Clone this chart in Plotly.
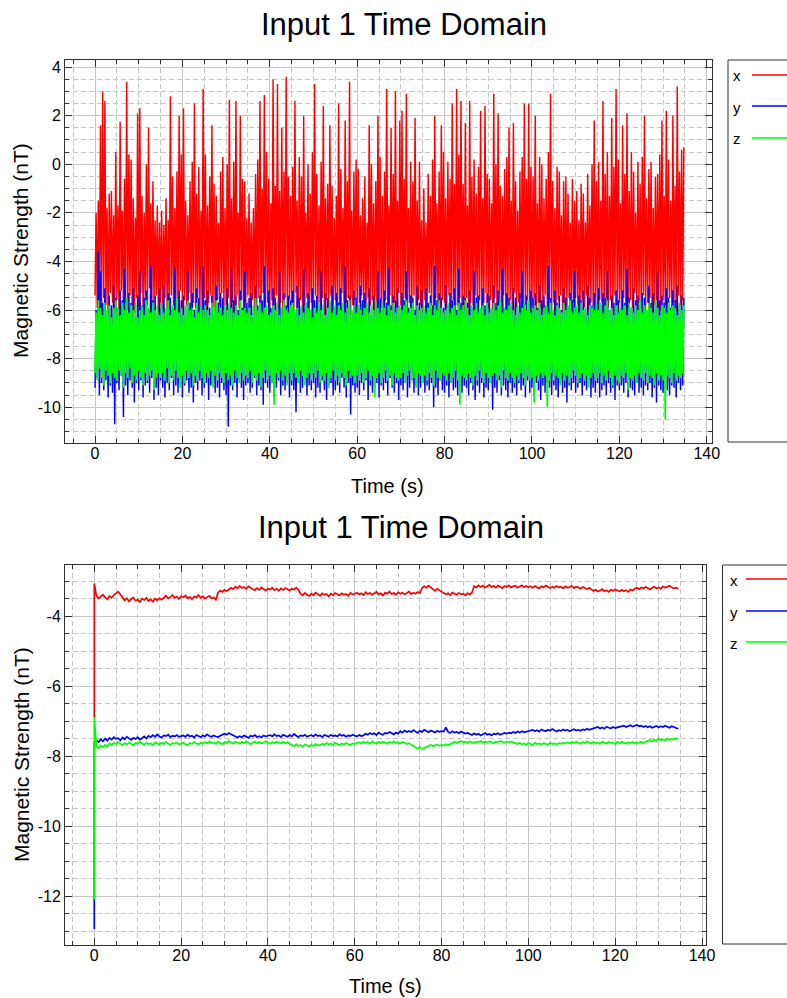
import numpy as np
import plotly.graph_objects as go

# ---------------- top panel: raw samples, summarised as high / low per 0.5 s ----------------
TOP_STEP = 0.5

x_hi = [
    -2.0, -1.5, 1.6, 3.0, 2.6, -1.8, -1.2, -1.1, -2.1, 0.5,
    -1.7, 1.75, -1.9, -0.6, 3.4, 0.4, 0.2, -1.4, -2.2, 2.1,
    2.3, -1.3, -2.0, 0.0, 1.5, -1.6, -0.7, -2.3, -1.7, -2.4,
    -1.9, -2.5, -1.4, -2.3, 2.8, -0.5, -1.8, -0.3, 2.0, 0.4,
    2.3, -1.5, -2.1, -0.7, 0.1, 2.5, -1.2, -0.1, -1.9, 3.1,
    0.4, -1.7, -0.5, 1.6, -0.8, -1.3, -2.4, -0.3, 0.3, -1.8,
    0.0, 2.65, -1.4, 0.1, 2.6, -2.0, 2.0, -0.6, -0.7, -2.2,
    -1.2, -2.4, -1.8, -0.4, 0.2, 2.6, -1.0, 2.85, 0.5, -0.6,
    -1.6, 3.5, -0.9, 3.3, -1.1, 1.5, -0.3, 3.6, -0.5, -1.3,
    -0.1, 2.6, -1.5, 0.3, -0.5, 2.0, -2.0, 0.0, -1.2, 0.5,
    3.3, -0.4, -1.7, 0.1, 2.4, -1.4, -0.8, 1.6, -0.9, -2.2,
    -1.3, 2.5, -0.2, -1.8, 1.8, -0.7, 3.4, -1.9, -0.3, 0.2,
    -0.2, -2.1, -1.4, -0.5, -2.4, 1.6, 0.0, -1.6, -0.7, 2.0,
    0.3, -1.3, -0.3, 3.1, -1.7, 1.5, -0.4, 3.0, -1.5, 1.8,
    2.2, -0.6, 2.9, -1.8, 0.1, -0.7, 1.9, -1.5, 0.1, -2.3,
    -1.0, -2.4, -0.4, -1.3, 0.2, 2.0, -1.6, -0.3, 1.6, 0.5,
    -1.4, 0.1, -0.6, 2.5, -0.8, 3.1, 0.4, 2.6, -0.8, 1.7,
    -1.7, 2.6, -0.5, 0.2, -1.2, -0.1, 2.2, -1.4, 2.4, -0.4,
    -0.6, -1.6, 2.9, 0.0, 2.1, -0.9, -1.3, -0.2, 0.3, 1.5,
    -1.5, 1.7, -0.7, -1.9, -0.3, 0.3, 2.5, -0.6, 2.5, -0.1,
    -0.5, 2.0, -1.6, 0.3, 0.0, -1.4, -0.6, 0.5, 2.9, -0.7,
    -1.8, -0.1, -0.3, -2.1, -0.7, -0.5, -1.2, -2.4, -0.6, -1.5,
    -1.1, -2.3, -0.8, -1.2, -2.4, -0.4, -1.7, 0.0, 1.8, -0.7,
    0.1, -1.5, 2.6, -0.4, 0.5, -1.3, 1.9, -0.1, 3.1, 0.2,
    -1.6, 1.6, -0.4, 2.1, -1.1, 0.5, -0.3, -2.0, 0.1, -0.8,
    0.3, 2.0, -1.4, -0.2, 0.1, -1.8, -0.5, -0.4, 0.4, 1.8,
    -1.3, 2.2, 0.2, -1.5, 2.0, -0.9, 3.2, -0.3, 0.6, 0.7,
]
x_lo = [
    -5.4, -5.9, -5.6, -6.1, -5.5, -5.8, -6.2, -5.3, -5.7, -6.0,
    -5.6, -6.3, -5.2, -5.9, -5.7, -6.0, -5.4, -5.8, -6.1, -5.5,
    -5.9, -5.3, -6.2, -5.6, -5.8, -5.1, -6.0, -5.7, -5.4, -6.1,
    -5.7, -6.0, -5.5, -5.9, -6.3, -5.4, -5.8, -5.6, -6.1, -5.2,
    -6.0, -5.6, -5.8, -5.3, -6.2, -5.7, -5.9, -5.5, -6.0, -5.8,
    -5.5, -6.1, -5.7, -5.4, -5.9, -6.2, -5.6, -5.8, -5.3, -6.0,
    -5.8, -5.5, -6.0, -5.7, -6.3, -5.4, -5.9, -5.6, -6.1, -5.7,
    -5.4, -5.9, -5.6, -6.2, -5.8, -5.5, -6.0, -5.3, -5.9, -5.7,
    -6.1, -5.6, -5.8, -5.4, -6.0, -5.7, -6.2, -5.5, -5.9, -5.6,
    -5.7, -6.0, -5.3, -5.9, -5.6, -6.1, -5.8, -5.5, -6.3, -5.7,
    -5.9, -5.4, -6.0, -5.7, -5.5, -6.2, -5.6, -5.9, -5.4, -6.0,
    -5.6, -6.1, -5.8, -5.3, -6.0, -5.7, -5.5, -6.2, -5.8, -5.6,
    -6.0, -5.7, -5.4, -5.9, -6.1, -5.5, -5.8, -5.6, -6.3, -5.7,
    -5.5, -5.9, -6.2, -5.6, -5.8, -5.4, -6.0, -5.7, -5.9, -5.3,
    -5.8, -6.0, -5.5, -6.1, -5.7, -5.9, -5.4, -6.2, -5.6, -5.8,
    -6.1, -5.6, -5.9, -5.3, -5.8, -6.0, -5.5, -5.7, -6.2, -5.6,
    -5.7, -5.9, -5.4, -6.0, -5.6, -6.1, -5.8, -5.5, -5.9, -6.0,
    -5.5, -6.2, -5.7, -5.8, -5.4, -6.0, -5.6, -6.1, -5.7, -5.3,
    -5.9, -5.6, -6.0, -5.5, -6.3, -5.7, -5.8, -5.4, -6.0, -5.8,
    -5.6, -6.1, -5.3, -5.9, -5.7, -5.5, -6.2, -5.8, -5.6, -6.0,
    -5.8, -5.5, -6.0, -5.7, -5.9, -6.1, -5.4, -5.8, -5.6, -6.2,
    -5.7, -6.0, -5.6, -5.4, -6.1, -5.8, -5.9, -5.5, -6.0, -5.7,
    -5.5, -5.8, -6.2, -5.6, -5.9, -5.4, -6.0, -5.7, -5.8, -6.1,
    -6.0, -5.6, -5.7, -6.3, -5.5, -5.9, -5.6, -6.0, -5.4, -5.8,
    -5.7, -6.1, -5.5, -5.8, -6.0, -5.6, -5.9, -5.3, -6.2, -5.7,
    -5.9, -5.4, -6.0, -5.7, -5.5, -6.1, -5.8, -5.6, -5.9, -6.0,
    -5.6, -5.8, -6.1, -5.5, -5.9, -5.7, -6.0, -5.4, -5.8, -5.6,
]
y_hi = [
    -6.0, -3.6, -4.4, -5.7, -5.1, -6.2, -5.4, -5.8, -5.0, -5.5,
    -5.9, -5.2, -5.6, -4.3, -6.1, -5.3, -5.7, -5.1, -6.3, -5.4,
    -4.4, -5.8, -5.5, -5.2, -6.0, -4.2, -5.6, -5.4, -6.1, -5.1,
    -5.7, -5.0, -6.2, -5.3, -5.5, -5.9, -4.3, -5.8, -5.2, -5.6,
    -5.4, -6.1, -4.4, -5.7, -5.3, -6.0, -5.1, -5.5, -5.8, -4.2,
    -5.6, -5.2, -5.9, -5.4, -6.3, -5.0, -5.7, -5.3, -5.5, -6.1,
    -5.1, -5.8, -4.3, -5.6, -5.4, -6.0, -5.2, -5.9, -4.4, -5.7,
    -5.5, -5.3, -6.1, -5.0, -5.8, -5.4, -5.6, -4.2, -6.2, -5.2,
    -5.9, -5.1, -5.5, -5.7, -4.4, -6.0, -5.3, -5.8, -5.4, -5.6,
    -5.2, -6.1, -5.0, -5.5, -5.9, -4.3, -5.7, -5.3, -6.0, -5.1,
    -5.6, -5.4, -5.8, -4.4, -6.2, -5.3, -5.5, -5.7, -5.0, -5.9,
    -5.3, -5.7, -5.1, -6.0, -4.2, -5.6, -5.4, -6.1, -5.2, -5.5,
    -5.8, -5.0, -5.6, -5.3, -5.9, -5.1, -6.2, -5.4, -5.7, -4.4,
    -5.5, -6.0, -5.2, -5.7, -4.3, -5.8, -5.4, -5.6, -5.1, -6.1,
    -5.3, -5.6, -4.4, -5.9, -5.4, -5.5, -6.0, -5.0, -5.7, -5.2,
    -6.1, -5.1, -5.7, -5.4, -5.8, -4.2, -5.6, -5.3, -5.5, -5.9,
    -5.0, -5.8, -5.3, -5.6, -5.1, -6.0, -4.3, -5.7, -5.4, -5.5,
    -5.7, -5.2, -5.9, -4.4, -5.5, -5.4, -6.1, -5.1, -5.8, -5.3,
    -5.4, -6.0, -5.0, -5.7, -5.2, -5.6, -4.3, -5.9, -5.3, -5.5,
    -5.8, -5.1, -5.5, -6.1, -5.3, -4.4, -5.7, -5.4, -6.0, -5.2,
    -5.5, -5.3, -5.9, -5.0, -5.6, -5.4, -5.8, -4.2, -5.5, -6.1,
    -5.2, -5.7, -5.4, -6.0, -5.1, -5.5, -5.9, -5.3, -5.6, -4.4,
    -5.9, -5.4, -5.6, -5.2, -6.1, -5.0, -5.5, -5.8, -5.3, -5.7,
    -5.1, -5.8, -5.3, -5.5, -4.4, -6.0, -5.4, -5.7, -5.2, -5.6,
    -6.0, -5.2, -5.7, -4.3, -5.5, -5.9, -5.1, -5.6, -5.4, -5.8,
    -5.3, -5.5, -6.1, -5.0, -5.7, -5.3, -5.8, -4.4, -5.6, -5.4,
    -5.7, -5.1, -5.5, -5.9, -5.2, -5.6, -5.0, -5.8, -5.4, -5.5,
]
y_lo = [
    -9.2, -8.8, -9.5, -9.0, -9.3, -8.9, -9.6, -9.1, -9.4, -10.7,
    -9.0, -9.3, -8.7, -10.4, -9.1, -9.5, -8.9, -9.2, -9.8, -9.0,
    -9.3, -8.9, -9.6, -9.1, -9.0, -9.4, -8.8, -9.7, -9.2, -9.5,
    -8.9, -9.2, -9.6, -9.0, -9.3, -8.8, -9.5, -9.1, -9.4, -9.0,
    -9.6, -9.1, -8.9, -9.4, -9.2, -9.8, -9.0, -9.3, -8.9, -9.5,
    -9.2, -9.0, -9.7, -9.1, -8.8, -9.4, -9.2, -9.6, -9.0, -9.3,
    -9.5, -10.8, -9.1, -9.3, -9.0, -9.6, -8.9, -9.2, -9.7, -9.1,
    -9.0, -9.4, -9.2, -8.8, -9.5, -9.1, -9.3, -9.9, -9.0, -9.2,
    -9.4, -9.0, -9.6, -9.2, -8.9, -9.5, -9.1, -9.3, -9.0, -9.6,
    -9.1, -9.3, -10.2, -9.0, -9.4, -9.2, -8.9, -9.5, -9.1, -9.3,
    -9.0, -9.6, -9.2, -9.4, -8.9, -9.3, -9.7, -9.1, -9.0, -9.5,
    -9.3, -9.1, -9.4, -8.8, -9.2, -9.6, -9.0, -10.3, -9.1, -9.4,
    -9.2, -9.5, -9.0, -9.3, -8.9, -9.7, -9.1, -9.4, -9.2, -9.0,
    -9.6, -9.1, -9.3, -9.0, -9.5, -8.8, -9.2, -9.4, -9.0, -9.7,
    -9.1, -9.3, -9.0, -9.6, -9.2, -8.9, -9.4, -9.1, -9.5, -9.2,
    -9.0, -9.4, -9.1, -9.3, -9.0, -10.0, -9.2, -9.5, -8.9, -9.3,
    -9.4, -9.1, -9.6, -9.0, -9.3, -9.2, -9.5, -8.9, -9.4, -9.1,
    -9.2, -9.5, -9.0, -9.3, -9.7, -9.1, -9.4, -9.0, -9.6, -9.2,
    -9.3, -9.0, -10.1, -9.2, -9.4, -8.9, -9.5, -9.1, -9.3, -9.6,
    -9.0, -9.4, -9.2, -9.5, -9.0, -9.3, -9.1, -9.6, -8.9, -9.4,
    -9.2, -9.5, -9.0, -9.3, -9.7, -9.1, -9.4, -9.0, -9.2, -9.5,
    -9.1, -9.3, -9.6, -9.0, -9.4, -9.2, -9.8, -9.1, -9.3, -9.0,
    -9.4, -9.2, -9.0, -9.5, -9.1, -9.3, -8.9, -9.6, -9.2, -9.4,
    -9.0, -9.6, -9.3, -9.1, -9.5, -9.0, -9.4, -9.2, -9.7, -9.1,
    -9.3, -9.1, -9.4, -9.0, -9.6, -9.2, -9.3, -9.5, -9.0, -9.4,
    -9.2, -9.5, -9.1, -9.3, -9.0, -9.6, -9.2, -9.8, -9.1, -9.3,
    -9.4, -9.0, -9.3, -9.5, -9.1, -9.2, -9.6, -9.0, -9.3, -9.1,
]
z_hi = [
    -6.1, -5.6, -5.9, -6.2, -5.7, -6.0, -5.8, -6.3, -5.9, -5.6,
    -5.9, -6.2, -5.7, -6.0, -5.5, -6.1, -5.8, -6.0, -5.7, -6.3,
    -6.0, -5.8, -6.2, -5.6, -5.9, -6.1, -5.7, -6.0, -5.8, -6.2,
    -5.7, -6.1, -5.9, -5.6, -6.2, -5.8, -6.0, -5.5, -6.1, -5.9,
    -6.2, -5.8, -5.6, -6.0, -5.9, -6.3, -5.7, -6.1, -5.8, -6.0,
    -5.8, -6.0, -6.2, -5.7, -5.9, -5.6, -6.1, -5.9, -6.2, -5.8,
    -6.0, -5.7, -5.9, -6.1, -5.8, -6.2, -5.6, -6.0, -5.9, -6.1,
    -5.9, -6.2, -5.8, -5.5, -6.0, -5.7, -6.1, -5.9, -5.8, -6.2,
    -6.1, -5.8, -6.0, -5.7, -6.2, -5.9, -5.6, -6.0, -6.1, -5.8,
    -5.7, -6.0, -5.9, -6.2, -5.8, -6.1, -5.7, -5.9, -6.0, -6.3,
    -5.9, -6.1, -5.7, -6.0, -5.8, -6.2, -5.9, -5.6, -6.1, -5.8,
    -6.2, -5.8, -6.0, -5.7, -6.1, -5.9, -5.6, -6.0, -5.8, -6.1,
    -5.8, -6.0, -6.2, -5.9, -5.7, -6.1, -5.8, -6.0, -5.6, -5.9,
    -6.1, -5.7, -5.9, -6.2, -5.8, -6.0, -5.7, -6.1, -5.9, -5.8,
    -6.0, -5.8, -5.6, -6.1, -5.9, -5.7, -6.2, -5.8, -6.0, -5.9,
    -5.8, -6.1, -5.9, -5.7, -6.2, -5.8, -6.0, -5.6, -5.9, -6.1,
    -6.0, -5.7, -6.1, -5.9, -5.8, -6.2, -5.7, -6.0, -5.8, -5.6,
    -5.9, -6.2, -5.8, -6.0, -5.7, -6.1, -5.9, -5.8, -6.2, -5.7,
    -6.1, -5.9, -5.7, -6.0, -5.8, -5.6, -6.1, -5.9, -6.0, -5.8,
    -5.7, -6.0, -6.2, -5.8, -6.1, -5.9, -5.7, -6.0, -5.6, -6.1,
    -5.9, -5.8, -6.0, -5.7, -6.2, -5.9, -5.8, -6.1, -5.7, -6.0,
    -6.2, -5.8, -5.9, -6.1, -5.7, -6.0, -5.8, -5.6, -6.1, -5.9,
    -5.8, -6.1, -5.7, -6.0, -5.9, -6.2, -5.8, -5.9, -6.0, -5.7,
    -6.0, -5.7, -6.1, -5.8, -5.6, -6.0, -5.9, -6.2, -5.8, -6.1,
    -5.9, -6.0, -5.8, -6.2, -5.7, -5.9, -6.1, -5.8, -6.0, -5.6,
    -6.1, -5.8, -6.0, -5.7, -5.9, -6.1, -5.6, -5.9, -6.2, -5.8,
    -5.9, -6.1, -5.7, -6.0, -5.8, -5.9, -6.2, -5.7, -6.0, -5.8,
]
z_lo = [
    -8.6, -8.9, -8.4, -8.8, -9.1, -8.5, -8.7, -9.0, -8.6, -8.8,
    -8.9, -8.5, -8.7, -9.2, -8.6, -8.8, -8.4, -9.0, -8.7, -8.9,
    -8.5, -8.8, -9.1, -8.6, -8.9, -8.7, -8.5, -9.3, -8.8, -8.6,
    -8.8, -8.6, -8.9, -8.4, -9.0, -8.7, -8.9, -8.5, -8.8, -9.2,
    -8.7, -9.0, -8.5, -8.8, -8.6, -9.1, -8.7, -8.9, -8.5, -8.8,
    -9.0, -8.6, -8.8, -8.5, -9.2, -8.7, -8.9, -8.6, -8.8, -9.0,
    -8.6, -8.9, -8.7, -9.1, -8.5, -8.8, -9.0, -8.6, -8.9, -8.7,
    -8.8, -8.5, -9.0, -8.7, -8.9, -8.6, -9.2, -8.8, -8.5, -8.9,
    -8.7, -9.0, -9.9, -8.6, -8.8, -8.5, -8.9, -8.7, -9.1, -8.6,
    -8.9, -8.6, -8.8, -9.0, -8.5, -8.7, -9.1, -8.8, -8.6, -8.9,
    -8.6, -8.8, -8.5, -9.0, -8.7, -8.9, -8.6, -9.2, -8.8, -8.5,
    -8.9, -8.7, -9.0, -8.6, -8.8, -9.1, -8.5, -8.8, -8.7, -9.0,
    -8.7, -8.9, -8.6, -9.0, -8.8, -8.5, -8.9, -8.7, -9.6, -8.8,
    -8.6, -9.0, -8.8, -8.5, -8.9, -8.7, -9.1, -8.6, -8.8, -8.9,
    -8.8, -8.6, -9.0, -8.7, -8.5, -8.9, -8.8, -9.2, -8.6, -8.7,
    -9.0, -8.7, -8.9, -8.6, -8.8, -9.1, -8.5, -8.8, -8.9, -8.6,
    -8.7, -8.9, -8.6, -9.0, -8.8, -8.5, -8.9, -9.9, -8.7, -8.8,
    -8.9, -8.6, -8.8, -9.1, -8.7, -8.9, -8.5, -8.8, -9.0, -8.6,
    -8.8, -9.0, -8.7, -8.6, -8.9, -8.7, -9.2, -8.5, -8.8, -8.9,
    -8.6, -8.8, -9.0, -8.7, -8.9, -8.6, -8.8, -9.1, -8.7, -8.9,
    -8.8, -9.8, -8.7, -8.9, -8.6, -8.8, -8.7, -10.0, -8.9, -8.6,
    -8.9, -8.7, -8.8, -9.1, -8.6, -8.9, -8.7, -9.0, -8.8, -8.5,
    -8.7, -9.0, -8.8, -8.6, -8.9, -8.7, -9.2, -8.8, -8.6, -8.9,
    -8.8, -8.6, -9.0, -8.7, -8.9, -8.5, -8.8, -9.1, -8.7, -8.9,
    -9.0, -8.7, -8.8, -8.6, -9.3, -8.8, -8.9, -8.7, -9.0, -8.6,
    -8.8, -8.9, -8.6, -9.0, -8.7, -8.8, -9.1, -8.6, -8.9, -8.7,
    -8.9, -10.5, -8.7, -8.8, -9.0, -8.6, -8.9, -8.7, -8.8, -8.6,
]

# ---------------- bottom panel: filtered samples every 0.5 s ----------------
BOT_STEP = 0.5
start_t = [0.0, 0.0]          # start-up transient at t = 0
x_start = [-6.9, -3.07]
y_start = [-12.94, -7.6]
z_start = [-12.1, -6.9]

x_bot = [
    -3.42, -3.50, -3.44, -3.39, -3.47, -3.52, -3.43, -3.48, -3.40,
    -3.36, -3.30, -3.38, -3.46,
    -3.55, -3.49, -3.58, -3.51, -3.47, -3.56, -3.53, -3.60, -3.50, -3.54, -3.48, -3.57, -3.52, -3.59, -3.50, -3.55, -3.49, -3.53,
    -3.47, -3.42, -3.50, -3.45, -3.40, -3.48, -3.44, -3.51, -3.43, -3.47, -3.41, -3.49, -3.45, -3.52, -3.44, -3.46, -3.40, -3.48, -3.43, -3.50, -3.45, -3.42, -3.49, -3.47, -3.53,
    -3.33, -3.27, -3.31, -3.25, -3.29, -3.24,
    -3.19, -3.23, -3.16, -3.21, -3.14, -3.20, -3.17, -3.22, -3.15, -3.19,
    -3.22, -3.26, -3.20, -3.25, -3.18, -3.23, -3.27, -3.21, -3.24, -3.19, -3.26, -3.22, -3.28, -3.21, -3.25, -3.20, -3.23, -3.27, -3.22, -3.25, -3.19, -3.24,
    -3.36, -3.41, -3.34, -3.39, -3.43, -3.36, -3.40, -3.33, -3.38, -3.42, -3.35, -3.39, -3.37, -3.44, -3.36, -3.40, -3.34, -3.38, -3.41, -3.35, -3.39, -3.37, -3.42, -3.34, -3.38, -3.36,
    -3.33, -3.38, -3.35, -3.40, -3.32, -3.37, -3.34, -3.39, -3.36, -3.31, -3.38, -3.35, -3.41, -3.33, -3.36, -3.30, -3.37, -3.34, -3.39, -3.32, -3.36, -3.33, -3.38, -3.35, -3.30, -3.37, -3.33, -3.36, -3.31, -3.34,
    -3.20, -3.15, -3.19, -3.13, -3.18,
    -3.24, -3.28, -3.22, -3.27, -3.30,
    -3.34, -3.38, -3.35, -3.40, -3.33, -3.37, -3.39, -3.34, -3.38, -3.36, -3.41, -3.35, -3.38, -3.33,
    -3.14, -3.18, -3.12, -3.17, -3.13, -3.19, -3.15, -3.11, -3.17, -3.14, -3.19, -3.13, -3.16, -3.20, -3.14, -3.17, -3.12, -3.18, -3.15, -3.13, -3.19, -3.16, -3.12, -3.17, -3.14, -3.18,
    -3.15, -3.19, -3.14, -3.18, -3.21, -3.15, -3.18, -3.13, -3.17, -3.20, -3.16, -3.19, -3.14, -3.18, -3.16, -3.21, -3.15, -3.19, -3.17, -3.14, -3.20, -3.16, -3.18, -3.22, -3.17, -3.20, -3.23, -3.19,
    -3.24, -3.28, -3.25, -3.30, -3.27, -3.23, -3.29, -3.26, -3.31, -3.25, -3.28, -3.24, -3.27, -3.30, -3.25, -3.29, -3.26, -3.31, -3.24, -3.27,
    -3.22, -3.19, -3.23, -3.18, -3.21, -3.17, -3.20, -3.24, -3.19, -3.16, -3.21, -3.18, -3.22, -3.15, -3.19, -3.17, -3.13, -3.18, -3.21, -3.19, -3.22,
]
y_bot = [
    -7.55, -7.60, -7.52, -7.58, -7.50, -7.56,
    -7.48, -7.53, -7.46, -7.51, -7.49, -7.55, -7.47, -7.52, -7.45, -7.50, -7.54, -7.48, -7.51, -7.46, -7.53, -7.49, -7.44, -7.50,
    -7.42, -7.46, -7.40, -7.45, -7.38, -7.44, -7.47, -7.41, -7.43, -7.39, -7.46, -7.42, -7.44, -7.40, -7.45, -7.43,
    -7.41, -7.45, -7.39, -7.44, -7.42, -7.47, -7.40, -7.43, -7.46, -7.41, -7.44, -7.38, -7.43, -7.45, -7.41, -7.44,
    -7.46, -7.42, -7.40, -7.36, -7.39, -7.34, -7.38, -7.41, -7.44, -7.47, -7.43, -7.46, -7.41, -7.45, -7.48, -7.42, -7.44, -7.40, -7.46, -7.43, -7.47, -7.41, -7.44, -7.42,
    -7.40, -7.44, -7.38, -7.43, -7.41, -7.46, -7.39, -7.42, -7.45, -7.40, -7.44, -7.37, -7.42, -7.46, -7.41, -7.43, -7.39, -7.45, -7.42, -7.40, -7.44, -7.38,
    -7.43, -7.41, -7.46, -7.40, -7.42, -7.45, -7.39, -7.43, -7.41, -7.44, -7.38, -7.42, -7.40, -7.45, -7.41, -7.43, -7.39, -7.42, -7.44, -7.40, -7.43, -7.41,
    -7.36, -7.39, -7.34, -7.38, -7.35, -7.40, -7.33, -7.37, -7.39, -7.34, -7.36, -7.31, -7.35, -7.38, -7.33, -7.36,
    -7.29, -7.33, -7.27, -7.31, -7.28, -7.32, -7.26, -7.30, -7.34, -7.28, -7.31, -7.25, -7.29, -7.32, -7.27, -7.30, -7.33, -7.28, -7.31, -7.29,
    -7.30, -7.18, -7.31, -7.34, -7.29, -7.33, -7.31, -7.35, -7.30, -7.33, -7.36, -7.34,
    -7.37, -7.40, -7.35, -7.39, -7.36, -7.41, -7.38, -7.34, -7.39, -7.37, -7.41, -7.36, -7.38, -7.35, -7.39, -7.37, -7.34, -7.36,
    -7.33, -7.35, -7.31, -7.34, -7.30, -7.33, -7.29, -7.32, -7.30, -7.28,
    -7.28, -7.25, -7.29, -7.26, -7.30, -7.24, -7.27, -7.29, -7.25, -7.28, -7.23, -7.27, -7.30, -7.26, -7.28, -7.24, -7.27, -7.25, -7.29, -7.26, -7.23, -7.27, -7.25, -7.28, -7.24, -7.26, -7.22, -7.25, -7.23, -7.21,
    -7.20, -7.17, -7.21, -7.18, -7.22, -7.16, -7.19, -7.21, -7.17, -7.20, -7.18, -7.16,
    -7.16, -7.13, -7.17, -7.14, -7.12, -7.16, -7.14, -7.11, -7.15, -7.13, -7.17, -7.14,
    -7.18, -7.15, -7.19, -7.16, -7.14, -7.18, -7.15, -7.17, -7.13, -7.16, -7.19, -7.15, -7.17, -7.20, -7.22,
]
z_bot = [
    -7.72, -7.78, -7.70, -7.75, -7.68, -7.73,
    -7.64, -7.68, -7.62, -7.66, -7.60, -7.65, -7.69, -7.63, -7.67, -7.61, -7.66, -7.70, -7.63, -7.65, -7.59, -7.64, -7.68, -7.62, -7.66, -7.64, -7.69, -7.61,
    -7.65, -7.67, -7.62, -7.66, -7.60, -7.64, -7.68, -7.63, -7.65, -7.61, -7.67, -7.64, -7.62, -7.66, -7.69, -7.63, -7.65, -7.60, -7.64, -7.67, -7.62, -7.65,
    -7.60, -7.64, -7.58, -7.63, -7.61, -7.65, -7.59, -7.62, -7.66, -7.60, -7.63, -7.57, -7.62, -7.64, -7.59, -7.61, -7.65, -7.60, -7.63, -7.58,
    -7.62, -7.66, -7.61, -7.59, -7.63, -7.60, -7.64, -7.62, -7.58, -7.61, -7.65, -7.60, -7.63, -7.59, -7.62, -7.64, -7.60, -7.63, -7.61, -7.64,
    -7.68, -7.72, -7.66, -7.71, -7.69, -7.74, -7.67, -7.70, -7.73, -7.68, -7.71, -7.66, -7.70, -7.69,
    -7.65, -7.68, -7.63, -7.67, -7.64, -7.69, -7.62, -7.66, -7.68, -7.64, -7.67, -7.63, -7.66, -7.69, -7.64, -7.66, -7.62,
    -7.61, -7.64, -7.59, -7.63, -7.60, -7.65, -7.58, -7.62, -7.64, -7.60, -7.63, -7.59, -7.61, -7.65, -7.60, -7.62, -7.58, -7.63, -7.61, -7.64, -7.60, -7.62, -7.66, -7.63, -7.67,
    -7.72, -7.76, -7.79, -7.74, -7.80, -7.77, -7.73,
    -7.71, -7.68, -7.72, -7.69, -7.67, -7.71, -7.68, -7.70, -7.66, -7.69, -7.65,
    -7.62, -7.59, -7.63, -7.60, -7.57, -7.61, -7.59, -7.62, -7.58, -7.61, -7.63, -7.59, -7.60, -7.57, -7.62, -7.59, -7.61, -7.58, -7.60, -7.63, -7.59, -7.61, -7.57, -7.60, -7.62, -7.58, -7.61, -7.59, -7.62,
    -7.63, -7.66, -7.62, -7.67, -7.64, -7.68, -7.63, -7.65, -7.69, -7.62, -7.66, -7.64, -7.67, -7.63, -7.65, -7.68, -7.62, -7.66, -7.64, -7.67, -7.63, -7.65, -7.62, -7.64,
    -7.61, -7.64, -7.60, -7.63, -7.59, -7.62, -7.65, -7.60, -7.63, -7.58, -7.62, -7.64, -7.60, -7.63, -7.61, -7.65, -7.59, -7.62, -7.64, -7.60, -7.63, -7.61, -7.66, -7.60, -7.63, -7.59, -7.62, -7.65, -7.61, -7.63, -7.60, -7.64, -7.61, -7.62, -7.59, -7.63, -7.60,
    -7.57, -7.54, -7.58, -7.53, -7.56, -7.51, -7.55, -7.52, -7.56, -7.50, -7.54, -7.51, -7.53, -7.49, -7.52,
]

# ---------------- axis ticks ----------------
time_ticks = [0, 20, 40, 60, 80, 100, 120, 140]
time_tick_text = ["0", "20", "40", "60", "80", "100", "120", "140"]
top_field_ticks = [4, 2, 0, -2, -4, -6, -8, -10]
top_field_text = ["4", "2", "0", "-2", "-4", "-6", "-8", "-10"]
bot_field_ticks = [-4, -6, -8, -10, -12]
bot_field_text = ["-4", "-6", "-8", "-10", "-12"]

series_names = ["x", "y", "z"]
series_colors = ["#ff0000", "#0000ff", "#00ff00"]
top_widths = [1.45, 1.45, 1.7]

W, H = 787, 998
FONT = "Liberation Sans, Arial, sans-serif"
FRAME = "#303030"
GRID = "#c6c6c6"


def px(x):
    return x / W


def py(y):
    return 1 - y / H


def envelope_trace(hi, lo, step):
    """Zig-zag between the low and high value of every interval."""
    n = min(len(hi), len(lo))
    t = np.arange(n) * step
    xs = np.empty(2 * n)
    ys = np.empty(2 * n)
    xs[0::2] = t
    xs[1::2] = t + step / 2
    ys[0::2] = lo[:n]
    ys[1::2] = hi[:n]
    return xs, ys


fig = go.Figure()

top_sets = [(x_hi, x_lo), (y_hi, y_lo), (z_hi, z_lo)]
for name, color, lw, (hi, lo) in zip(series_names, series_colors, top_widths, top_sets):
    xs, ys = envelope_trace(hi, lo, TOP_STEP)
    fig.add_trace(go.Scatter(x=xs, y=ys, mode="lines", name=name,
                             line=dict(color=color, width=lw),
                             xaxis="x", yaxis="y", hoverinfo="skip"))

bot_sets = [(x_start, x_bot), (y_start, y_bot), (z_start, z_bot)]
for name, color, (st, vals) in zip(series_names, series_colors, bot_sets):
    t = list(start_t) + list(BOT_STEP * (np.arange(len(vals)) + 1))
    fig.add_trace(go.Scatter(x=t, y=list(st) + list(vals), mode="lines", name=name,
                             line=dict(color=color, width=1.7),
                             xaxis="x2", yaxis="y2", hoverinfo="skip"))


def axis(tickvals, ticktext, minor_dtick, rng, domain, anchor, standoff=0):
    return dict(
        domain=domain, range=rng, anchor=anchor, autorange=False, automargin=False,
        tickmode="array", tickvals=tickvals, ticktext=ticktext,
        ticks="inside", ticklen=7, tickwidth=1, tickcolor=FRAME,
        showline=True, linecolor=FRAME, linewidth=1, mirror="allticks",
        showgrid=True, gridcolor=GRID, gridwidth=1, zeroline=False,
        ticklabelstandoff=standoff,
        tickfont=dict(family=FONT, size=16, color="#000000"),
        minor=dict(tickmode="linear", tick0=0, dtick=minor_dtick,
                   ticks="inside", ticklen=4, tickcolor=FRAME,
                   showgrid=True, gridcolor=GRID, gridwidth=1, griddash="5px,3px"),
        fixedrange=True,
    )


top_x_dom = [px(65), px(712)]
top_y_dom = [py(443), py(60)]
bot_x_dom = [px(65), px(705.5)]
bot_y_dom = [py(945), py(565)]

fig.update_layout(
    width=W, height=H, autosize=False,
    margin=dict(l=0, r=0, t=0, b=0, pad=0),
    paper_bgcolor="white", plot_bgcolor="white",
    showlegend=False,
    xaxis=axis(time_ticks, time_tick_text, 5, [-6.87, 141.2], top_x_dom, "y", -4),
    yaxis=axis(top_field_ticks, top_field_text, 0.5, [-11.47, 4.29], top_y_dom, "x"),
    xaxis2=axis(time_ticks, time_tick_text, 5, [-6.75, 140.8], bot_x_dom, "y2", -4),
    yaxis2=axis(bot_field_ticks, bot_field_text, 0.5, [-13.4, -2.54], bot_y_dom, "x2"),
)

annotations = []
shapes = []


def text(x, y, s, size, angle=0, xanchor="center"):
    annotations.append(dict(x=px(x), y=py(y), xref="paper", yref="paper", text=s,
                            showarrow=False, textangle=angle, xanchor=xanchor, yanchor="middle",
                            font=dict(family=FONT, size=size, color="#000000")))


# titles and axis titles
text(404, 25, "Input 1 Time Domain", 31)
text(401, 527, "Input 1 Time Domain", 31)
text(387, 486, "Time (s)", 20)
text(385, 986, "Time (s)", 20)
text(21, 251, "Magnetic Strength (nT)", 21, angle=-90)
text(21, 755, "Magnetic Strength (nT)", 21, angle=-90)

# legend boxes (the right part runs past the page edge)
for (bx, top, bottom, tx, lx, rows) in [
    (728, 60, 442, 737, 752, [76, 107, 139]),
    (722.5, 565, 944, 734, 746, [580, 612, 643]),
]:
    shapes.append(dict(type="rect", xref="paper", yref="paper",
                       x0=px(bx), x1=px(bx + 120), y0=py(bottom), y1=py(top),
                       line=dict(color=FRAME, width=1), fillcolor="rgba(0,0,0,0)"))
    for name, color, ry in zip(series_names, series_colors, rows):
        text(tx, ry, name, 15)
        shapes.append(dict(type="line", xref="paper", yref="paper",
                           x0=px(lx), x1=px(lx + 60), y0=py(ry - 1), y1=py(ry - 1),
                           line=dict(color=color, width=1.5)))

fig.update_layout(annotations=annotations, shapes=shapes)
fig.write_html("out.html")
